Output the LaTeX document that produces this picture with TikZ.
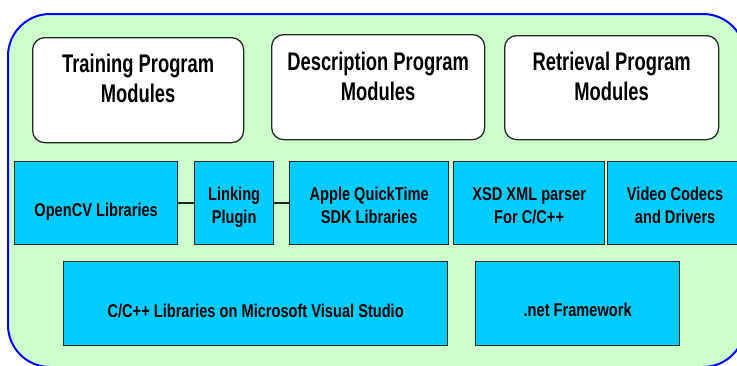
\documentclass[tikz,border=0pt]{standalone}
\usepackage{fontspec}
\newfontfamily\topfont{Liberation Sans}[FakeStretch=0.72]
\newfontfamily\bluefont{Liberation Sans}[FakeStretch=0.79]
\definecolor{libblue}{HTML}{00CCFF}
\definecolor{outergreen}{HTML}{CCFFCC}
\definecolor{outerblue}{HTML}{0000FF}
\begin{document}
\begin{tikzpicture}[x=1pt,y=-1pt,
  topbox/.style={draw=black!85, line width=1.3pt, fill=white, rounded corners=12pt, anchor=north west, inner sep=0pt},
  libbox/.style={draw=black!85, line width=1.3pt, fill=libblue, anchor=north west, inner sep=0pt},
  toptext/.style={font=\topfont\bfseries\fontsize{25.5}{30}\selectfont, align=center, anchor=north, inner sep=0pt},
  libtext/.style={font=\bluefont\bfseries\fontsize{18.5}{23}\selectfont, align=center, anchor=north, inner sep=0pt},
  link/.style={line width=2pt, draw=black!85}]
\useasboundingbox (0,0) rectangle (737,365);
\clip (0,0) rectangle (737,365);
\draw[draw=outerblue, line width=2pt, fill=outergreen, rounded corners=42pt] (8,14) rectangle (745,367);

% top modules
\node[topbox, minimum width=211pt, minimum height=105pt] (train) at (32,37) {};
\node[topbox, minimum width=213pt, minimum height=105pt] (desc) at (271,34) {};
\node[topbox, minimum width=214pt, minimum height=104pt] (retr) at (504,35) {};
\node[toptext] (traint) at ([yshift=-17.3pt]train.north) {Training Program\\Modules};
\node[toptext] (desct) at ([yshift=-17.7pt]desc.north) {Description Program\\Modules};
\node[toptext] (retrt) at ([yshift=-16.7pt]retr.north) {Retrieval Program\\Modules};

% library row
\node[libbox, minimum width=163pt, minimum height=83pt] (opencv) at (14,161) {};
\node[libbox, minimum width=79pt, minimum height=83pt] (linking) at (194,161) {};
\node[libbox, minimum width=159pt, minimum height=83pt] (apple) at (289,161) {};
\node[libbox, minimum width=151pt, minimum height=83pt] (xsd) at (453,161) {};
\node[libbox, minimum width=160pt, minimum height=83pt] (video) at (607,161) {};
\node[libtext] (opencvt) at ([yshift=-42pt]opencv.north) {OpenCV Libraries};
\node[libtext] (linkingt) at ([yshift=-26pt]linking.north) {Linking\\Plugin};
\node[libtext] (applet) at ([yshift=-26pt]apple.north) {Apple QuickTime\\SDK Libraries};
\node[libtext] (xsdt) at ([yshift=-26.5pt]xsd.north) {XSD XML parser\\For C/C++};
\node[libtext] (videot) at ([xshift=-12.5pt,yshift=-26pt]video.north) {Video Codecs\\and Drivers};

% bottom row
\node[libbox, minimum width=384pt, minimum height=84pt] (cpp) at (63,261) {};
\node[libbox, minimum width=204pt, minimum height=84pt] (net) at (475,261) {};
\node[libtext] (cppt) at ([yshift=-42.5pt]cpp.north) {C/C++ Libraries on Microsoft Visual Studio};
\node[libtext] (nett) at ([yshift=-42pt]net.north) {.net Framework};

% links
\draw[link] (opencv.east) -- (linking.west);
\draw[link] (linking.east) -- (apple.west);
\end{tikzpicture}
\end{document}
